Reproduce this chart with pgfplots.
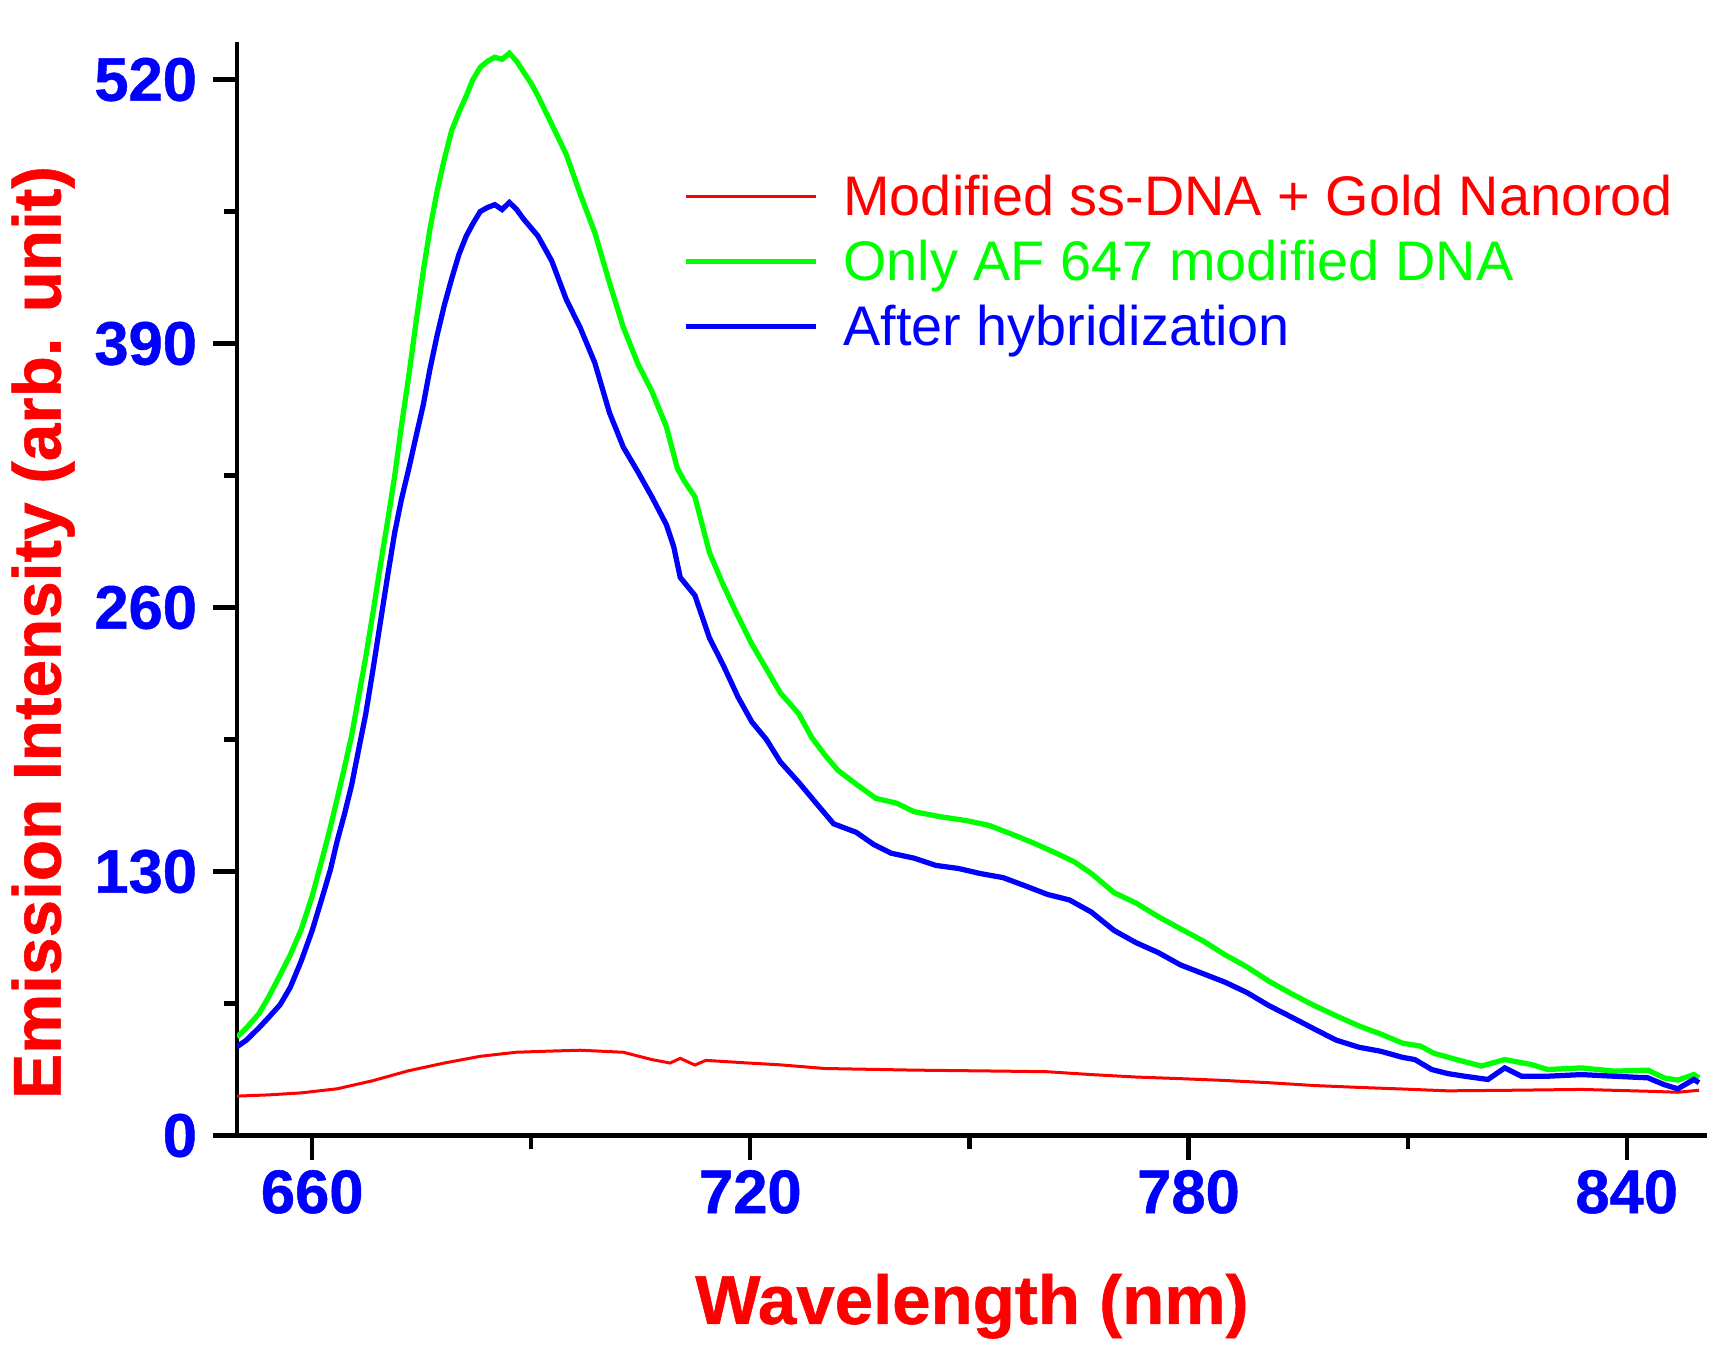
\documentclass[border=0pt]{standalone}
\usepackage{pgfplots}
\pgfplotsset{compat=1.18}
\usepackage{fontspec}
\setmainfont{Liberation Sans}
\newfontfamily\heavyfont[FakeBold=0.8]{Liberation Sans Bold}
\definecolor{cred}{RGB}{255,0,0}
\definecolor{cgreen}{RGB}{0,255,0}
\definecolor{cblue}{RGB}{0,0,255}
\begin{document}
\begin{tikzpicture}
\useasboundingbox (0,0) rectangle (575pt,448pt);
\begin{axis}[
  at={(79pt,69.5pt)}, anchor=south west,
  width=490pt, height=364.5pt, scale only axis,
  xmin=649.7, xmax=851, ymin=0, ymax=538.5,
  axis x line*=bottom, axis y line*=left,
  xtick={660,720,780,840}, ytick={0,130,260,390,520},
  minor x tick num=1, minor y tick num=1,
  tick align=outside,
  major tick length=8pt, minor tick length=4.4pt,
  tick style={black, line width=1.4pt},
  axis line style={line width=1.6pt},
  x axis line style={shorten <=-7pt},
  ticklabel style={font=\fontsize{20.5}{24}\heavyfont, text=cblue},
  yticklabel style={xshift=-1.8pt},
  /pgf/number format/assume math mode=true,
  xlabel={Wavelength (nm)},
  ylabel={Emission Intensity (arb. unit)},
  xlabel style={at={(axis description cs:0.5,-0.126)}, anchor=north, inner sep=0pt, font=\fontsize{23}{28}\heavyfont, text=cred},
  ylabel style={at={(axis description cs:-0.1537,0.46)}, anchor=north, inner sep=0pt, font=\fontsize{22.5}{27}\heavyfont, text=cred},
  legend style={at={(0.3037,0.8888)}, anchor=north west, draw=none, fill=none, inner sep=0pt, outer sep=0pt,
    font=\fontsize{18.6}{22}\selectfont, row sep=0pt, column sep=8.2pt,
    nodes={inner sep=0pt, text height=17.35pt, text depth=4.35pt}},
  legend cell align=left,
  legend image code/.code={\draw[#1] (0pt,0pt) -- (43.4pt,0pt);},
]
\addplot[cred, line width=1.0pt] coordinates {
(649.7,19.4) (654,20) (658.5,21) (663.4,23) (668.3,27) (673.2,31.9) (678.1,35.7)
(683,39) (687.9,41) (692.8,41.6) (696.7,42) (702.6,41) (706.5,37.4) (709,35.7)
(710.4,38) (712.4,34.7) (713.9,37) (719.7,35.7) (724.1,34.8) (730.2,33) (742.4,32.2)
(754.6,31.7) (760.7,31.4) (766.7,30) (772.8,28.8) (778.9,28) (785,27.1) (791,26)
(797.3,24.6) (803.3,23.7) (809.3,22.9) (815.5,22) (824.6,22.3) (833.8,22.7)
(842.9,21.8) (847,21.3) (849.9,22.3)
};
\addlegendentry{\textcolor{cred}{Modified ss-DNA + Gold Nanorod}}
\addplot[cgreen, line width=1.75pt] coordinates {
(649.7,48.5) (651,53) (652.7,60) (654,68) (655.6,79) (657,89) (658.5,101.5) (660,118)
(661.5,138) (662.5,152) (663.4,165.6) (664.4,181) (665.4,197) (666.3,215) (667.3,235)
(668.3,257) (669.3,280) (670.3,302) (671.3,325) (672.2,349) (673.2,373.5) (674.2,400)
(675.2,425.5) (676.1,446) (677.1,465) (678.1,481) (679.1,495) (680.1,504) (681.1,512)
(682,520) (683,526) (684,529) (685,531) (686,530) (687,533) (688,529) (688.9,524)
(690,518) (690.9,512) (692.8,498) (694.8,483) (696.7,463.6) (698.7,444.6) (700.7,420)
(702.6,398) (704.6,380) (706.5,366.6) (708.5,349) (710,328.5) (711,322) (712.4,314.6)
(714.4,287) (716.3,271) (718.3,255.7) (720.2,242) (722.2,229.7) (724.1,218)
(726.6,207.8) (728.4,196) (730.2,187.4) (732,179.8) (734.5,173) (737.2,166) (740,163.7)
(742.4,159.5) (746,157) (749.7,155) (752.7,152.7) (755.8,148.4) (758.8,144) (761.9,139)
(764.3,134.9) (766.7,129) (769.8,119.6) (772.8,114.5) (775.9,107.7) (778.9,101.8)
(782,95.8) (785,89) (788,83) (791,76) (794,70) (797.2,64) (800.2,59) (803.3,54)
(806.3,50) (809.3,45.5) (811.8,44) (813.6,40.5) (816.6,37.5) (820.1,34.2) (823.3,37.4)
(826.9,35) (829.2,32.5) (833.8,33.3) (838.3,31.7) (842.9,32.2) (845.1,28.4) (847,27.3)
(849.2,30) (849.9,28.4)
};
\addlegendentry{\textcolor{cgreen}{Only AF 647 modified DNA}}
\addplot[cblue, line width=1.75pt] coordinates {
(649.7,43.7) (651,47) (652.7,53) (654,58) (655.6,64.4) (657,73) (658.5,86) (660,101)
(661.5,118.8) (662.5,131) (663.4,144.8) (664.4,158) (665.4,172.6) (666.3,189) (667.3,207)
(668.3,229) (669.3,252) (670.3,275) (671.3,297) (672.2,313) (673.2,328) (674.2,344)
(675.2,359.7) (676.1,377) (677.1,394) (678.1,409) (679.1,422) (680.1,434) (681.1,443)
(682,449) (683,455) (684,457) (685,458.4) (686,456) (687,459.5) (688,456) (688.9,451.5)
(690.9,443) (692.8,430.7) (694.8,411.6) (696.7,397.8) (698.7,380.5) (700.7,356)
(702.6,339) (704.6,326.8) (706.5,314.6) (708.5,300.8) (709.5,290) (710.4,274.8)
(712.4,266) (714.4,245) (716.3,231.5) (718.3,216) (720.2,203.7) (722.2,195) (724.1,184)
(726.6,174) (729,163.7) (731.4,153.5) (734.5,149.3) (736.9,143.3) (739.3,139)
(742.4,136.6) (745.4,133) (748.5,131.5) (751.5,129) (754.6,127) (757.6,123) (760.7,118.7)
(763.7,116) (766.7,110) (769.8,101) (772.8,95) (775.9,90) (778.9,84) (782,79.7)
(785,75.5) (788,70.4) (791,64) (794,58.5) (797.2,52.5) (800.2,47) (803.3,43.5)
(806.3,41.5) (809.3,38.5) (811,37.4) (813.3,32.5) (815.5,30.5) (817.8,29.2) (821,27.6)
(823.3,33.3) (825.6,29.2) (829.2,29.2) (833.8,30) (838.3,29.2) (842.9,28.4) (845.1,25.1)
(847,23) (849.2,27.6) (849.9,26)
};
\addlegendentry{\textcolor{cblue}{After hybridization}}
\end{axis}
\end{tikzpicture}
\end{document}
